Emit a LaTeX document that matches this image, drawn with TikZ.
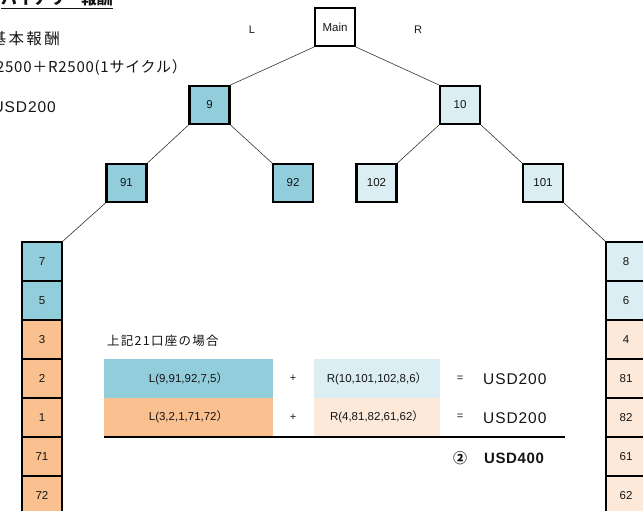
\documentclass[tikz,border=0pt]{standalone}
\usepackage{fontspec}
\setmainfont{Noto Sans CJK JP}
\newfontfamily\lat{Liberation Sans}
\definecolor{dblue}{RGB}{146,205,220}
\definecolor{lblue}{RGB}{218,238,243}
\definecolor{dorg}{RGB}{250,192,144}
\definecolor{lorg}{RGB}{253,233,217}
\definecolor{ink}{RGB}{20,20,20}
\begin{document}
\begin{tikzpicture}[x=1pt,y=-1pt,
 box/.style={draw=black, line width=2.1pt, minimum width=40pt, minimum height=38pt, inner sep=0pt, font=\lat\fontsize{11.5}{13}\selectfont, text=ink},
 col/.style={box, minimum height=39pt},
 link/.style={draw=black!80, line width=0.6pt},
 cell/.style={inner sep=0pt, minimum height=38.5pt, font=\fontsize{11.5}{13}\selectfont, text=ink},
 big/.style={font=\lat\fontsize{15.5}{18}\selectfont\addfontfeature{LetterSpace=6}, text=ink},
 jbig/.style={font=\fontsize{15.5}{18}\selectfont\addfontfeature{LetterSpace=6}, text=ink},
 mid/.style={font=\lat\fontsize{11}{12}\selectfont, text=ink},
]
\useasboundingbox (0,0) rectangle (643,511);
% heading texts
\node[anchor=base east, inner sep=0pt, font=\bfseries\fontsize{16}{18}\selectfont, text=ink] (title) at (113,5) {\underline{バイナリー報酬}};
\node[anchor=east, inner sep=0pt, font=\fontsize{15.5}{18}\selectfont\addfontfeature{LetterSpace=15}, text=ink] (basic) at (60,39) {基本報酬};
\node[anchor=east, inner sep=0pt, font=\fontsize{15}{18}\selectfont\addfontfeature{LetterSpace=5}, text=ink] (formula) at (187,68) {L2500＋R2500(1サイクル）};
\node[anchor=east, inner sep=0pt, big] (usdl) at (56,107) {USD200};
% tree
\node[mid] (lab L) at (252,30) {L};
\node[mid] (lab R) at (418,30) {R};
\node[box] (main) at (335,27) {Main};
\node[box, fill=dblue] (n9) at (209.5,105) {9};
\node[box, fill=lblue] (n10) at (460,105) {10};
\node[box, fill=dblue] (n91) at (126.5,183) {91};
\node[box, fill=dblue] (n92) at (293,183) {92};
\node[box, fill=lblue] (n102) at (376.5,183) {102};
\node[box, fill=lblue] (n101) at (543,183) {101};
% columns
\foreach \lab/\c [count=\i from 0] in {7/dblue,5/dblue,3/dorg,2/dorg,1/dorg,71/dorg,72/dorg}
  \node[col, fill=\c] (l\lab) at (42,261.5+39*\i) {\lab};
\foreach \lab/\c [count=\i from 0] in {8/lblue,6/lblue,4/lorg,81/lorg,82/lorg,61/lorg,62/lorg}
  \node[col, fill=\c] (r\lab) at (626,261.5+39*\i) {\lab};
% connectors
\draw[link] (main.south west) -- (n9.north east);
\draw[link] (main.south east) -- (n10.north west);
\draw[link] (n9.south west) -- (n91.north east);
\draw[link] (n9.south east) -- (n92.north west);
\draw[link] (n10.south west) -- (n102.north east);
\draw[link] (n10.south east) -- (n101.north west);
\draw[link] (n91.south west) -- (l7.north east);
\draw[link] (n101.south east) -- (r8.north west);
% table
\node[anchor=west, inner sep=0pt, font=\fontsize{12.5}{14}\selectfont\addfontfeature{LetterSpace=10}, text=ink] (head) at (107,341) {上記21口座の場合};
\node[cell, fill=dblue, minimum width=169pt] (Lb) at (188.5,378.5) {{\lat L(9,91,92,7,5}）};
\node[cell, fill=dorg, minimum width=169pt] (Lo) at (188.5,417) {{\lat L(3,2,1,71,72}）};
\node[cell, fill=lblue, minimum width=126pt] (Rb) at (377,378.5) {{\lat R(10,101,102,8,6}）};
\node[cell, fill=lorg, minimum width=126pt] (Ro) at (377,417) {{\lat R(4,81,82,61,62}）};
\node[mid] (p1) at (293,378.5) {+};
\node[mid] (p2) at (293,417) {+};
\node[mid] (e1) at (460,378.5) {=};
\node[mid] (e2) at (460,417) {=};
\node[anchor=west, inner sep=0pt, big] (u1) at (483,379) {USD200};
\node[anchor=west, inner sep=0pt, big] (u2) at (483,418) {USD200};
\coordinate (ruleR) at (565,437);
\draw[line width=2pt, draw=black] (Lo.south west |- ruleR) -- (ruleR);
\node[font=\bfseries\fontsize{14}{15}\selectfont, text=ink] (circ) at (460,458) {②};
\node[anchor=west, inner sep=0pt, font=\lat\bfseries\fontsize{15}{18}\selectfont\addfontfeature{LetterSpace=4}, text=ink] (tot) at (484,458) {USD400};
\end{tikzpicture}
\end{document}
